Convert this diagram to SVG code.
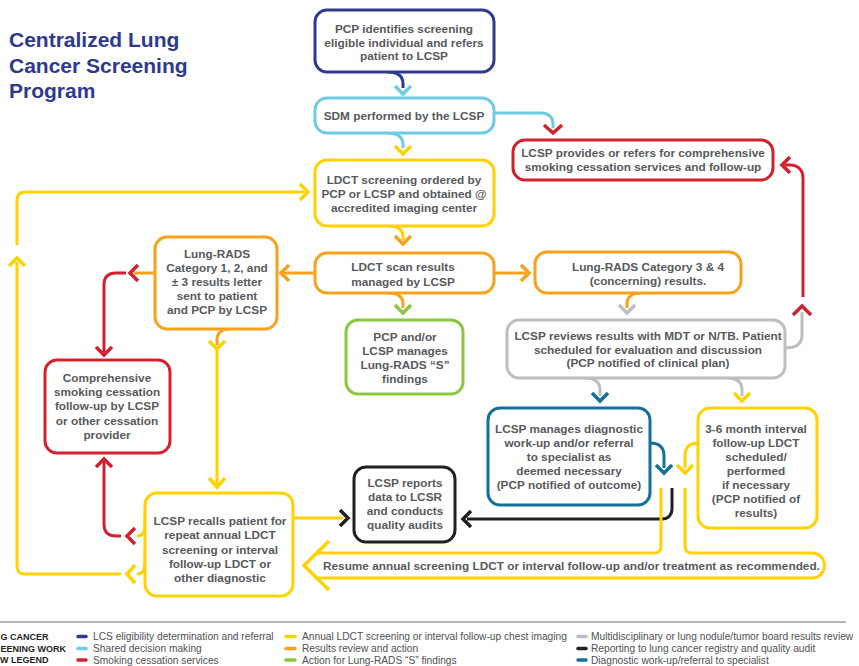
<svg xmlns="http://www.w3.org/2000/svg" width="859" height="666" viewBox="0 0 859 666">
<style>
.n{fill:#fff;stroke-width:3}
.t{font-family:"Liberation Sans",Arial,sans-serif;font-weight:bold;font-size:11.8px;fill:#58595B;text-anchor:middle}
.c{fill:none;stroke-width:3}
.h{fill:none;stroke-width:3.5;stroke-linejoin:miter;stroke-miterlimit:10}
.nv{stroke:#2E3A8F}.lb{stroke:#6FCBE4}.rd{stroke:#D3202F}.yl{stroke:#FFD200}.or{stroke:#F7A21B}.gn{stroke:#8CC63F}.gy{stroke:#BCBEC0}.bk{stroke:#231F20}.tl{stroke:#13709A}
.lg{font-family:"Liberation Sans",Arial,sans-serif;font-size:10.2px;fill:#505153}
.sw{stroke-width:3.5;stroke-linecap:round}
</style>
<rect width="859" height="666" fill="#fff"/>
<g id="title" font-family="Liberation Sans, Arial, sans-serif" font-weight="bold" font-size="21" fill="#2E3A8F">
<text x="9" y="47">Centralized Lung</text>
<text x="9" y="73">Cancer Screening</text>
<text x="9" y="97.5">Program</text>
</g>
<g id="connectors">
<path class="c nv" d="M388,72 C398,72 403,76 403,84 L403,88"/>
<path class="h lb" d="M395,86 L403,94 L411,86"/>
<path class="c lb" d="M388,133 C398,133 403,137 403,145 L403,148"/>
<path class="h yl" d="M395,146 L403,154 L411,146"/>
<path class="c lb" d="M494,113 L541,113 C548,113 553,117 553,124 L553,128"/>
<path class="h rd" d="M544,125 L553,133 L562,125"/>
<path class="c yl" d="M388,226 C398,226 403,230 403,237 L403,240"/>
<path class="h or" d="M395,236 L403,244 L411,236"/>
<path class="c or" d="M388,293 C398,293 403,297 403,304 L403,308"/>
<path class="h gn" d="M395,305 L403,313 L411,305"/>
<path class="c or" d="M315,273 L284,273"/>
<path class="h or" d="M289,265 L281,273 L289,281"/>
<path class="c or" d="M494,273 L526,273"/>
<path class="h or" d="M521,265 L529,273 L521,281"/>
<path class="c or" d="M641,293 C632,293 627,297 627,304 L627,308"/>
<path class="h gy" d="M619,305 L627,313 L635,305"/>
<path class="c gy" d="M585,378 C595,378 600,382 600,390 L600,396"/>
<path class="h tl" d="M592,393 L600,401 L608,393"/>
<path class="c gy" d="M727,378 C737,378 742,382 742,390 L742,396"/>
<path class="h yl" d="M734,393 L742,401 L750,393"/>
<path class="c gy" d="M785,348 C797,348 802,343 802,335 L802,312"/>
<path class="h rd" d="M793,315 L802,306 L811,315"/>
<path class="c rd" d="M803,297 L803,178 C803,170 798,165 790,165 L785,165"/>
<path class="h rd" d="M790,157 L782,165 L790,173"/>
<path class="c tl" d="M650,443 C660,443 664,448 664,456 L664,468"/>
<path class="h tl" d="M656,465 L664,473 L672,465"/>
<path class="c yl" d="M698,443 C689,443 685,448 685,456 L685,468"/>
<path class="h yl" d="M677,465 L685,473 L693,465"/>
<path class="c bk" d="M672,488 L672,509 C672,515 668,519 662,519 L467,519"/>
<path class="h bk" d="M471,511 L463,519 L471,527"/>
<path class="c yl" d="M661,488 L661,546 Q661,553 654,553 L316,553"/>
<path class="c yl" d="M685,488 L685,546 Q685,553 692,553 L812,553 A12.5,12.5 0 0 1 812,578 L316,578"/>
<path class="h yl" d="M329,541 L304,565.5 L329,590"/>
<path class="c yl" d="M293,518 L343,518"/>
<path class="h bk" d="M340,510 L348,518 L340,526"/>
<path class="c or" d="M230,329 C221,329 217,333 217,340 L217,345"/>
<path class="h yl" d="M209,341 L217,349 L225,341"/>
<path class="c yl" d="M217,349 L217,484"/>
<path class="h yl" d="M209,478 L217,487 L225,478"/>
<path class="c or" d="M155,273 L134,273"/>
<path class="h rd" d="M138,265 L130,273 L138,281"/>
<path class="c rd" d="M126,273 L116,273 Q104,273 104,285 L104,352"/>
<path class="h rd" d="M96,347 L104,355 L112,347"/>
<path class="c yl" d="M145,514 L145,526 Q145,536 137,536"/>
<path class="h rd" d="M135,528 L127,536 L135,544"/>
<path class="c rd" d="M121,536 L116,536 Q104,536 104,524 L104,462"/>
<path class="h rd" d="M96,467 L104,459 L112,467"/>
<path class="c yl" d="M145,550 L145,564 Q145,574 137,574"/>
<path class="h yl" d="M135,565 L127,574 L135,583"/>
<path class="c yl" d="M121,574 L25,574 Q17,574 17,566 L17,262"/>
<path class="h yl" d="M9,266 L17,258 L25,266"/>
<path class="c yl" d="M17,245 L17,200 Q17,192 25,192 L304,192"/>
<path class="h yl" d="M300,184 L308,192 L300,200"/>
</g>
<g id="n1"><rect class="n nv" x="315" y="10" width="179" height="62" rx="12"/>
<text class="t" x="404" y="32.5">PCP identifies screening</text><text class="t" x="404" y="46.5">eligible individual and refers</text><text class="t" x="404" y="60">patient to LCSP</text></g>
<g id="n2"><rect class="n lb" x="315" y="98" width="179" height="35" rx="12"/>
<text class="t" x="404" y="120">SDM performed by the LCSP</text></g>
<g id="n3"><rect class="n yl" x="315" y="160" width="179" height="66" rx="12"/>
<text class="t" x="404" y="183.5">LDCT screening ordered by</text><text class="t" x="404" y="197.8">PCP or LCSP and obtained @</text><text class="t" x="404" y="212">accredited imaging center</text></g>
<g id="n4"><rect class="n or" x="315" y="253" width="179" height="40" rx="12"/>
<text class="t" x="403" y="271">LDCT scan results</text><text class="t" x="403" y="285.5">managed by LCSP</text></g>
<g id="n5"><rect class="n or" x="155" y="237" width="122" height="92" rx="12"/>
<text class="t" x="217" y="258">Lung-RADS</text><text class="t" x="217" y="272">Category 1, 2, and</text><text class="t" x="217" y="286">± 3 results letter</text><text class="t" x="217" y="300">sent to patient</text><text class="t" x="217" y="314">and PCP by LCSP</text></g>
<g id="n6"><rect class="n or" x="535" y="252" width="206" height="41" rx="12"/>
<text class="t" x="648" y="271">Lung-RADS Category 3 &amp; 4</text><text class="t" x="648" y="285">(concerning) results.</text></g>
<g id="n7"><rect class="n gn" x="346" y="320" width="117" height="74" rx="12"/>
<text class="t" x="405" y="341">PCP and/or</text><text class="t" x="405" y="355">LCSP manages</text><text class="t" x="405" y="369">Lung-RADS “S”</text><text class="t" x="405" y="383">findings</text></g>
<g id="n8"><rect class="n rd" x="513" y="140" width="260" height="40" rx="12"/>
<text class="t" x="643" y="157">LCSP provides or refers for comprehensive</text><text class="t" x="643" y="171">smoking cessation services and follow-up</text></g>
<g id="n9"><rect class="n gy" x="507" y="320" width="278" height="58" rx="12"/>
<text class="t" x="648" y="340">LCSP reviews results with MDT or N/TB. Patient</text><text class="t" x="648" y="353.5">scheduled for evaluation and discussion</text><text class="t" x="648" y="367">(PCP notified of clinical plan)</text></g>
<g id="n10"><rect class="n rd" x="45" y="360" width="125" height="93" rx="12"/>
<text class="t" x="107" y="382">Comprehensive</text><text class="t" x="107" y="396">smoking cessation</text><text class="t" x="107" y="410">follow-up by LCSP</text><text class="t" x="107" y="424.5">or other cessation</text><text class="t" x="107" y="438.5">provider</text></g>
<g id="n11"><rect class="n tl" x="488" y="408" width="162" height="97" rx="12"/>
<text class="t" x="569" y="433">LCSP manages diagnostic</text><text class="t" x="569" y="447">work-up and/or referral</text><text class="t" x="569" y="461">to specialist as</text><text class="t" x="569" y="475">deemed necessary</text><text class="t" x="569" y="489">(PCP notified of outcome)</text></g>
<g id="n12"><rect class="n yl" x="698" y="408" width="119" height="120" rx="12"/>
<text class="t" x="756" y="433">3-6 month interval</text><text class="t" x="756" y="447">follow-up LDCT</text><text class="t" x="756" y="461">scheduled/</text><text class="t" x="756" y="475">performed</text><text class="t" x="756" y="489">if necessary</text><text class="t" x="756" y="503">(PCP notified of</text><text class="t" x="756" y="517">results)</text></g>
<g id="n13"><rect class="n bk" x="354" y="467" width="101" height="75" rx="12"/>
<text class="t" x="405" y="487">LCSP reports</text><text class="t" x="405" y="501">data to LCSR</text><text class="t" x="405" y="515">and conducts</text><text class="t" x="405" y="529">quality audits</text></g>
<g id="n14"><rect class="n yl" x="145" y="493" width="148" height="103" rx="12"/>
<text class="t" x="220" y="525">LCSP recalls patient for</text><text class="t" x="220" y="539">repeat annual LDCT</text><text class="t" x="220" y="553.5">screening or interval</text><text class="t" x="220" y="567.5">follow-up LDCT or</text><text class="t" x="220" y="581.5">other diagnostic</text></g>
<g id="n15"><text class="t" x="323" y="570" style="text-anchor:start">Resume annual screening LDCT or interval follow-up and/or treatment as recommended.</text></g>
<g id="legend">
<line x1="0" y1="622" x2="846" y2="622" stroke="#9B9B9B" stroke-width="1.5"/>
<g font-family="Liberation Sans, Arial, sans-serif" font-weight="bold" font-size="9" fill="#231F20">
<text x="0.5" y="640">G CANCER</text><text x="0.5" y="651.5">EENING WORK</text><text x="0" y="663">W LEGEND</text></g>
<line class="sw nv" x1="78" y1="636.5" x2="86" y2="636.5"/><text class="lg" x="93" y="640">LCS eligibility determination and referral</text>
<line class="sw lb" x1="78" y1="648.5" x2="86" y2="648.5"/><text class="lg" x="93" y="652">Shared decision making</text>
<line class="sw rd" x1="78" y1="660" x2="86" y2="660"/><text class="lg" x="93" y="663.5">Smoking cessation services</text>
<line class="sw yl" x1="286" y1="636.5" x2="295" y2="636.5"/><text class="lg" x="302" y="640">Annual LDCT screening or interval follow-up chest imaging</text>
<line class="sw or" x1="286" y1="648.5" x2="295" y2="648.5"/><text class="lg" x="302" y="652">Results review and action</text>
<line class="sw gn" x1="286" y1="660" x2="295" y2="660"/><text class="lg" x="302" y="663.5">Action for Lung-RADS “S” findings</text>
<line class="sw gy" x1="578" y1="636.5" x2="586" y2="636.5"/><text class="lg" x="591" y="640">Multidisciplinary or lung nodule/tumor board results review</text>
<line class="sw bk" x1="578" y1="648.5" x2="586" y2="648.5"/><text class="lg" x="591" y="652">Reporting to lung cancer registry and quality audit</text>
<line class="sw tl" x1="578" y1="660" x2="586" y2="660"/><text class="lg" x="591" y="663.5">Diagnostic work-up/referral to specialist</text>
</g>
</svg>
